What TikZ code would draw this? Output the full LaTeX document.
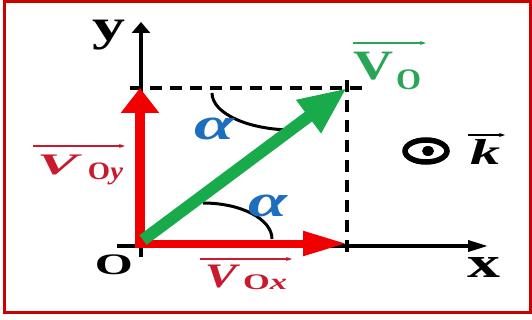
\documentclass[tikz,border=0pt]{standalone}
\usepackage{graphicx}
\usepackage{fontspec}
\setmainfont{Liberation Serif}
\usetikzlibrary{arrows.meta}
\definecolor{framered}{RGB}{205,0,0}
\definecolor{arrred}{RGB}{240,0,0}
\definecolor{labred}{RGB}{200,25,45}
\definecolor{arrgreen}{RGB}{25,170,75}
\definecolor{labgreen}{RGB}{40,165,85}
\definecolor{alphablue}{RGB}{30,110,190}
\newcommand{\fitbox}[3]{\resizebox*{#1}{#2}{#3}}
\tikzset{
  lab/.style={inner sep=0pt, outer sep=0pt},
  axis/.style={line width=3.5pt, black},
  dash line/.style={line width=3.5pt, black, dash pattern=on 12pt off 8pt},
  anglearc/.style={line width=3pt, black},
  overarrow/.style={line width=1.3pt, -{Stealth[length=6pt,width=4pt]}},
}
\begin{document}
\begin{tikzpicture}[x=1pt,y=-1pt]
\useasboundingbox (0,0) rectangle (532,320);
\fill[white] (0,0) rectangle (532,320);
% frame
\draw[framered, line width=3pt] (4,2) rectangle (530.5,312);
% coordinates
\coordinate (ys) at (141,257);
\coordinate (ye) at (141,22);
\coordinate (xs) at (117,246);
\coordinate (xe) at (488,246);
\coordinate (O) at (140,243.5);
\coordinate (Vys) at (140,247.5);
\coordinate (Vy) at (140,88);
\coordinate (Vxs) at (135,243.5);
\coordinate (Vx) at (347,243.5);
\coordinate (Gs) at (143,240);
\coordinate (P) at (347,88);
\coordinate (hd1) at (130,88);
\coordinate (hd2) at (365,88);
\coordinate (vd1) at (347,80);
\coordinate (vd2) at (347,257);
% axes
\draw[axis, -{Triangle[length=11pt,width=18pt]}] (ys) -- (ye);
\draw[axis, -{Triangle[length=20pt,width=11pt]}] (xs) -- (xe);
% dashed
\draw[dash line] (hd1) -- (hd2);
\draw[dash line] (vd1) -- (vd2);
% arcs
\draw[anglearc] (212,93) .. controls (212,113.4) and (248.3,130) .. (293,130);
\draw[anglearc] (203,203) .. controls (241,203) and (272,219) .. (272,239);
% red components
\draw[arrred, line width=10pt, -{Triangle[length=25pt,width=37pt]}] (Vys) -- (Vy);
\draw[arrred, line width=8pt, -{Triangle[length=44pt,width=23pt]}] (Vxs) -- (Vx);
% green vector
\draw[arrgreen, line width=12pt, -{Triangle[length=48pt,width=38pt]}] (Gs) -- (P);
% axis labels
\node[lab] (ylab) at (108.5,35) {\fitbox{33pt}{30pt}{\bfseries y}};
\node[lab] (xlab) at (483.5,267) {\fitbox{33pt}{20pt}{\bfseries x}};
\node[lab] (olab) at (114,265) {\fitbox{38pt}{20pt}{\bfseries O}};
% V0y
\node[lab, text=labred] (vyV) at (57.5,165) {\fitbox{41pt}{20pt}{\bfseries\itshape V}};
\node[lab, text=labred] (vyS) at (105.5,174) {\fitbox{35pt}{22pt}{\bfseries O\itshape y}};
\coordinate (vya1) at (33,146);
\coordinate (vya2) at (125,146);
\draw[overarrow, labred] (vya1) -- (vya2);
% V0x
\node[lab, text=labred] (vxV) at (221,276.5) {\fitbox{32pt}{23pt}{\bfseries\itshape V}};
\node[lab, text=labred] (vxS) at (265,282.5) {\fitbox{44pt}{15pt}{\bfseries O\itshape x}};
\coordinate (vxa1) at (200,259);
\coordinate (vxa2) at (292,259);
\draw[overarrow, labred] (vxa1) -- (vxa2);
% V0
\node[lab, text=labgreen] (v0V) at (374,66) {\fitbox{40pt}{28pt}{\bfseries V}};
\node[lab, text=labgreen] (v0S) at (408.5,80) {\fitbox{25pt}{20pt}{\bfseries O}};
\coordinate (v0a1) at (353,43);
\coordinate (v0a2) at (426,43);
\draw[overarrow, labgreen] (v0a1) -- (v0a2);
% k
\draw[black, line width=5.5pt] (426,151) ellipse [x radius=21, y radius=11];
\fill[black] (428,151) ellipse [x radius=6, y radius=5];
\node[lab] (klab) at (485,152.5) {\fitbox{30pt}{25pt}{\bfseries\itshape k}};
\coordinate (ka1) at (468,135);
\coordinate (ka2) at (505,135);
\draw[overarrow, black] (ka1) -- (ka2);
% alphas
\node[lab, text=alphablue] (a1) at (215,129) {\fitbox{40pt}{22pt}{\bfseries\itshape α}};
\node[lab, text=alphablue] (a2) at (267.5,206) {\fitbox{39pt}{22pt}{\bfseries\itshape α}};
\end{tikzpicture}
\end{document}
